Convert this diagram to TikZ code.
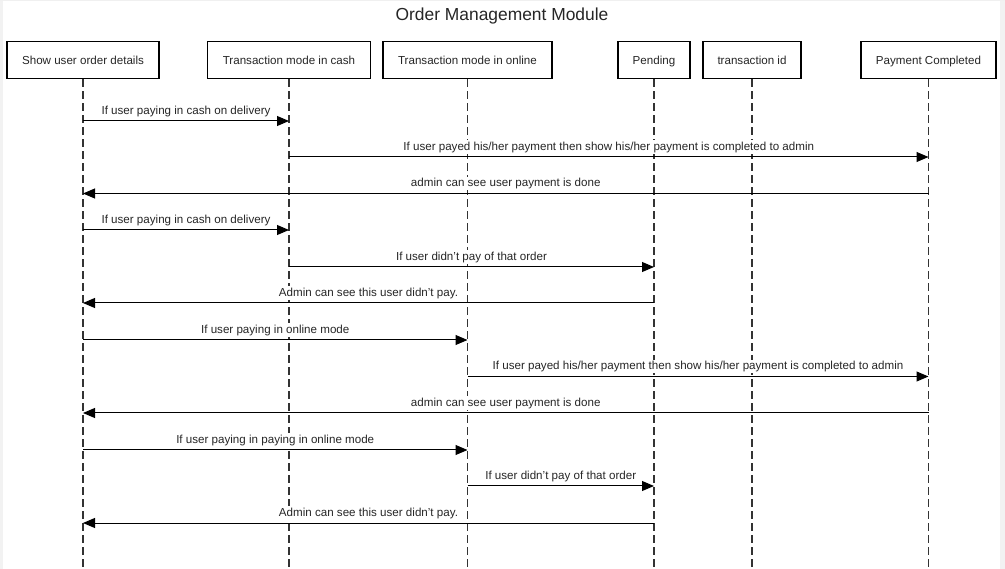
\documentclass[tikz,border=0pt]{standalone}
\usepackage{fontspec}
\setmainfont{Liberation Sans}
\usetikzlibrary{arrows.meta}
\begin{document}
\begin{tikzpicture}[x=1pt,y=-1pt,
  actor/.style={draw=black,line width=1.6pt,minimum height=37pt,inner sep=0pt,text height=8.4pt,text depth=0pt,font=\fontsize{11.6}{13}\selectfont,text=black!85},
  life/.style={draw=black!80,line width=1.2pt,dash pattern=on 8pt off 4pt},
  msg/.style={draw=black,line width=1pt,-{Triangle[length=12pt,width=10pt]}},
  lbl/.style={font=\fontsize{11.6}{13}\selectfont,text=black!85,fill=white,above,inner sep=1.2pt,yshift=2.8pt}]
\useasboundingbox (0,0) rectangle (1005,569);
\fill[white] (0,0) rectangle (1005,569);
\fill[black!5] (0,0) rectangle (3,569);
\fill[black!5] (1000,0) rectangle (1005,569);
\draw[black!6,line width=1pt] (0,0.5) -- (1005,0.5);

\node[font=\fontsize{17.4}{20}\selectfont,text=black!85] (title) at (502,16) {Order Management Module};

\node[actor,minimum width=152pt] (b1) at (83,60) {Show user order details};
\node[actor,minimum width=163pt] (b2) at (289,60) {Transaction mode in cash};
\node[actor,minimum width=169pt] (b3) at (467.5,60) {Transaction mode in online};
\node[actor,minimum width=72pt] (b4) at (654,60) {Pending};
\node[actor,minimum width=98pt] (b5) at (752,60) {transaction id};
\node[actor,minimum width=135pt] (b6) at (928.5,60) {Payment Completed};

\foreach \i in {1,...,6} {
  \coordinate (e\i) at (b\i.south |- 0,569);
  \draw[life] (b\i.south) -- (e\i);
}

\draw[msg] (b1.south |- 0,121) -- (b2.south |- 0,121) node[lbl,midway] {If user paying in cash on delivery};
\draw[msg] (b2.south |- 0,157) -- (b6.south |- 0,157) node[lbl,midway] {If user payed his/her payment then show his/her payment is completed to admin};
\draw[msg] (b6.south |- 0,193.5) -- (b1.south |- 0,193.5) node[lbl,midway] {admin can see user payment is done};
\draw[msg] (b1.south |- 0,230) -- (b2.south |- 0,230) node[lbl,midway] {If user paying in cash on delivery};
\draw[msg] (b2.south |- 0,267) -- (b4.south |- 0,267) node[lbl,midway] {If user didn't pay of that order};
\draw[msg] (b4.south |- 0,303) -- (b1.south |- 0,303) node[lbl,midway] {Admin can see this user didn't pay.};
\draw[msg] (b1.south |- 0,340) -- (b3.south |- 0,340) node[lbl,midway] {If user paying in online mode};
\draw[msg] (b3.south |- 0,376.5) -- (b6.south |- 0,376.5) node[lbl,midway] {If user payed his/her payment then show his/her payment is completed to admin};
\draw[msg] (b6.south |- 0,413) -- (b1.south |- 0,413) node[lbl,midway] {admin can see user payment is done};
\draw[msg] (b1.south |- 0,450) -- (b3.south |- 0,450) node[lbl,midway] {If user paying in paying in online mode};
\draw[msg] (b3.south |- 0,486) -- (b4.south |- 0,486) node[lbl,midway] {If user didn't pay of that order};
\draw[msg] (b4.south |- 0,523) -- (b1.south |- 0,523) node[lbl,midway] {Admin can see this user didn't pay.};
\end{tikzpicture}
\end{document}
